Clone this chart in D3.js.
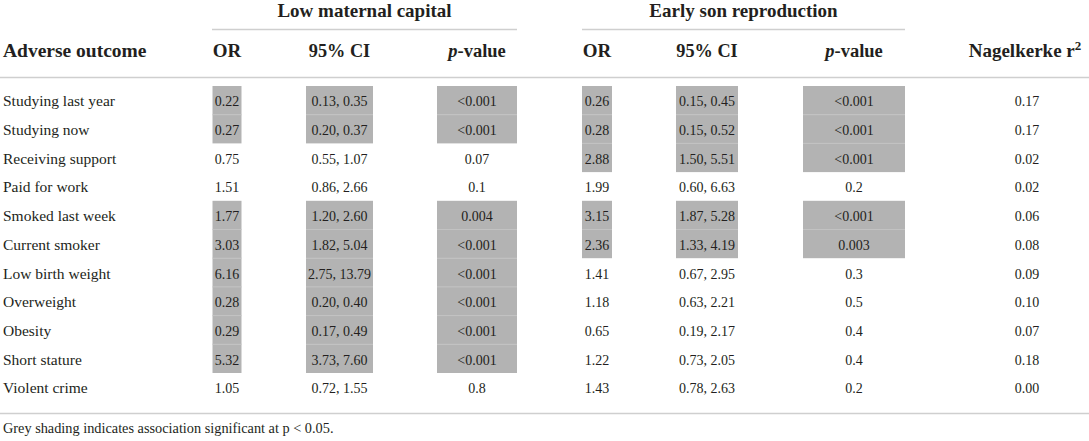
<!DOCTYPE html>
<html><head><meta charset="utf-8">
<script src="https://cdn.jsdelivr.net/npm/d3@7/dist/d3.min.js"></script>
<style>
html,body{margin:0;padding:0;background:#fff;}
svg{display:block;font-family:"Liberation Serif","DejaVu Serif",serif;}
</style></head>
<body><svg id="c" width="1089" height="441"></svg>
<script>
const outcomes = ["Studying last year","Studying now","Receiving support","Paid for work","Smoked last week","Current smoker","Low birth weight","Overweight","Obesity","Short stature","Violent crime"];
const lmcOR = ["0.22","0.27","0.75","1.51","1.77","3.03","6.16","0.28","0.29","5.32","1.05"];
const lmcCI = ["0.13, 0.35","0.20, 0.37","0.55, 1.07","0.86, 2.66","1.20, 2.60","1.82, 5.04","2.75, 13.79","0.20, 0.40","0.17, 0.49","3.73, 7.60","0.72, 1.55"];
const lmcP = ["<0.001","<0.001","0.07","0.1","0.004","<0.001","<0.001","<0.001","<0.001","<0.001","0.8"];
const lmcSig = [1,1,0,0,1,1,1,1,1,1,0];
const esOR = ["0.26","0.28","2.88","1.99","3.15","2.36","1.41","1.18","0.65","1.22","1.43"];
const esCI = ["0.15, 0.45","0.15, 0.52","1.50, 5.51","0.60, 6.63","1.87, 5.28","1.33, 4.19","0.67, 2.95","0.63, 2.21","0.19, 2.17","0.73, 2.05","0.78, 2.63"];
const esP = ["<0.001","<0.001","<0.001","0.2","<0.001","0.003","0.3","0.5","0.4","0.4","0.2"];
const esSig = [1,1,1,0,1,1,0,0,0,0,0];
const r2 = ["0.17","0.17","0.02","0.02","0.06","0.08","0.09","0.10","0.07","0.18","0.00"];
const groups = ["Low maternal capital","Early son reproduction"];
const footnote = "Grey shading indicates association significant at p < 0.05.";

const svg = d3.select("#c");
const textCol = "#231f20", lineCol = "#cfcfcf", shade = "#b3b3b3";

const y = d3.scaleBand().domain(d3.range(outcomes.length)).range([86, 86 + 28.7 * outcomes.length]).padding(0);

const cols = [
  {vals: lmcOR, sig: lmcSig, x0: 212.5, x1: 241.5, cx: 227},
  {vals: lmcCI, sig: lmcSig, x0: 306, x1: 373, cx: 339.5},
  {vals: lmcP, sig: lmcSig, x0: 437, x1: 517, cx: 477},
  {vals: esOR, sig: esSig, x0: 582, x1: 612, cx: 597},
  {vals: esCI, sig: esSig, x0: 676, x1: 738, cx: 707},
  {vals: esP, sig: esSig, x0: 803, x1: 905, cx: 854},
  {vals: r2, sig: null, cx: 1027}
];

cols.forEach(c => {
  if (!c.sig) return;
  outcomes.forEach((o, i) => {
    if (!c.sig[i]) return;
    svg.append("rect").attr("x", c.x0).attr("width", c.x1 - c.x0)
      .attr("y", y(i)).attr("height", y.bandwidth()).attr("fill", shade);
    if (i > 0 && c.sig[i-1]) {
      svg.append("line").attr("x1", c.x0).attr("x2", c.x1).attr("y1", y(i)).attr("y2", y(i))
        .attr("stroke", "#c2c2c2").attr("stroke-width", 1);
    }
  });
});

const rule = (x1, x2, yy) => svg.append("line").attr("x1", x1).attr("x2", x2).attr("y1", yy).attr("y2", yy)
  .attr("stroke", lineCol).attr("stroke-width", 1.3);
rule(212, 517, 29.5);
rule(582, 905, 29.5);
rule(0, 1089, 77.5);
rule(0, 1089, 413.5);

const gfs = 19;
svg.append("text").attr("x", (212 + 517) / 2).attr("y", 17).attr("text-anchor", "middle")
  .attr("font-size", gfs).attr("font-weight", "bold").attr("fill", textCol).text(groups[0]);
svg.append("text").attr("x", (582 + 905) / 2).attr("y", 17).attr("text-anchor", "middle")
  .attr("font-size", gfs).attr("font-weight", "bold").attr("fill", textCol).text(groups[1]);

const hy = 57;
const hdr = (x, anchor, fsz) => svg.append("text").attr("x", x).attr("y", hy).attr("text-anchor", anchor)
  .attr("font-size", fsz || 19).attr("font-weight", "bold").attr("fill", textCol);
hdr(3, "start", 19.5).text("Adverse outcome");
[0, 3].forEach(k => {
  hdr(cols[k].cx, "middle").text("OR");
  hdr(cols[k+1].cx, "middle", 18.3).text("95% CI");
  const t = hdr(cols[k+2].cx, "middle", 18.5);
  t.append("tspan").attr("font-style", "italic").text("p");
  t.append("tspan").text("-value");
});
const nk = hdr(1025, "middle", 19);
nk.append("tspan").text("Nagelkerke r");
nk.append("tspan").attr("font-size", 13).attr("dy", -7).text("2");

const lfs = 15.5, nfs = 14;
outcomes.forEach((o, i) => {
  const cy = y(i) + y.bandwidth() / 2 + 6;
  svg.append("text").attr("x", 3).attr("y", cy).attr("font-size", lfs).attr("fill", textCol).text(o);
  cols.forEach(c => {
    svg.append("text").attr("x", c.cx).attr("y", cy).attr("text-anchor", "middle")
      .attr("font-size", nfs).attr("fill", textCol).text(c.vals[i]);
  });
});

svg.append("text").attr("x", 3).attr("y", 433).attr("font-size", 14.3).attr("fill", textCol).text(footnote);
</script></body></html>
